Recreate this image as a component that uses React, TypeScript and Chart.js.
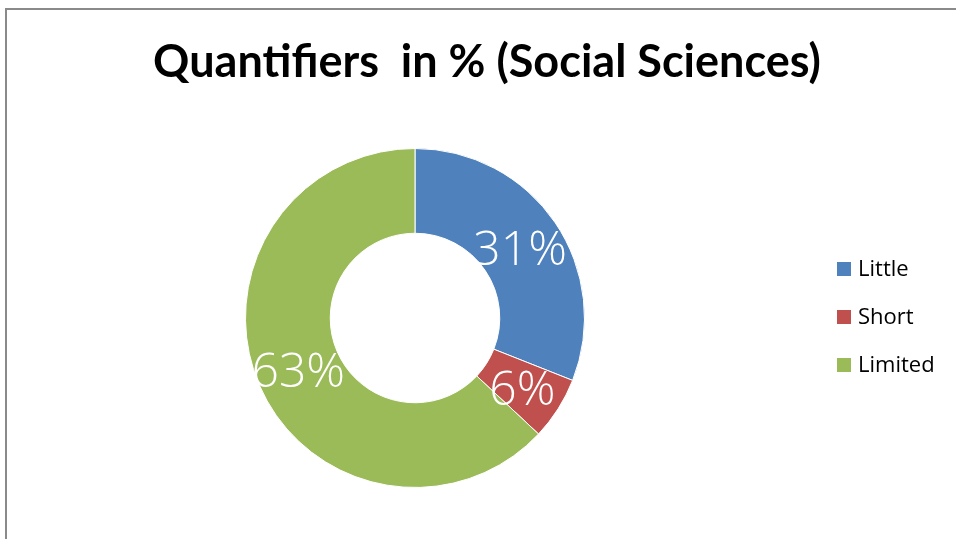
import React, { useEffect, useRef } from "react";
import { Chart, registerables } from "chart.js";

Chart.register(...registerables);

const TITLE = "Quantifiers  in % (Social Sciences)";
const CATEGORIES = ["Little", "Short", "Limited"];
const VALUES = [31, 6, 63];
const COLORS = ["#4F81BD", "#C0504D", "#9BBB59"];

const overlayPlugin = {
  id: "overlay",
  afterDatasetsDraw(chart: any) {
    const ctx = chart.ctx;
    const meta = chart.getDatasetMeta(0);
    ctx.save();
    // data labels
    ctx.fillStyle = "#ffffff";
    ctx.font = "300 48px 'Open Sans', 'Noto Sans', sans-serif";
    ctx.textAlign = "center";
    ctx.textBaseline = "middle";
    meta.data.forEach((arc: any, i: number) => {
      const p = arc.tooltipPosition(false);
      ctx.fillText(VALUES[i] + "%", p.x, p.y + 5);
    });
    // title
    ctx.fillStyle = "#000000";
    ctx.font = "bold 45px Lato, 'Open Sans', sans-serif";
    ctx.textAlign = "center";
    ctx.textBaseline = "middle";
    ctx.fillText(TITLE, 487, 62);
    // legend
    ctx.font = "22px 'Open Sans', Lato, sans-serif";
    ctx.textAlign = "left";
    CATEGORIES.forEach((c, i) => {
      const y = 269 + i * 48;
      ctx.fillStyle = COLORS[i];
      ctx.fillRect(837, y - 7, 14, 14);
      ctx.fillStyle = "#000000";
      ctx.fillText(c, 858, y + 1);
    });
    ctx.restore();
  },
};

export default function App() {
  const ref = useRef<HTMLCanvasElement | null>(null);
  useEffect(() => {
    if (!ref.current) return;
    const chart = new Chart(ref.current, {
      type: "doughnut",
      data: {
        labels: CATEGORIES,
        datasets: [
          {
            data: VALUES,
            backgroundColor: COLORS,
            borderColor: "#ffffff",
            borderWidth: 1,
          },
        ],
      },
      options: {
        responsive: false,
        animation: false,
        cutout: "50%",
        layout: { padding: { left: 245, right: 371, top: 148, bottom: 51 } },
        plugins: {
          legend: { display: false },
          title: { display: false },
          tooltip: { enabled: false },
        },
      },
      plugins: [overlayPlugin],
    });
    return () => chart.destroy();
  }, []);

  return (
    <div
      style={{
        position: "fixed",
        left: 0,
        top: 0,
        width: 956,
        height: 539,
        overflow: "hidden",
        background: "#ffffff",
      }}
    >
      <div
        style={{
          position: "absolute",
          left: 5,
          top: 8,
          width: 1000,
          height: 600,
          border: "2px solid #8a8a8a",
          boxSizing: "border-box",
        }}
      />
      <canvas
        ref={ref}
        width={956}
        height={539}
        style={{ position: "absolute", left: 0, top: 0 }}
      />
    </div>
  );
}
